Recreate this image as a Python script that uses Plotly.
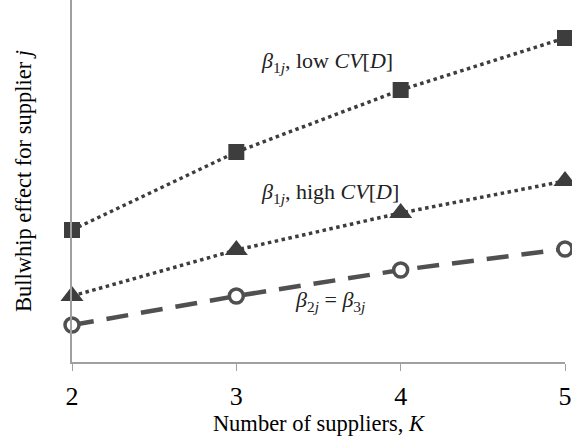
import plotly.graph_objects as go

K = [2, 3, 4, 5]
beta1_low = [132, 210, 272, 324]
beta1_high = [66, 112, 149, 181]
beta23 = [37, 66, 92, 113]

dark = "#3d3d3d"
serif = "Liberation Serif"

fig = go.Figure()
fig.add_trace(go.Scatter(x=K, y=beta1_low, mode="lines+markers",
                         line=dict(color=dark, width=3.5, dash="dot"),
                         marker=dict(symbol="square", size=16, color=dark),
                         cliponaxis=False, showlegend=False))
fig.add_trace(go.Scatter(x=K, y=beta1_high, mode="lines+markers",
                         line=dict(color=dark, width=3.5, dash="dot"),
                         marker=dict(symbol="triangle-up", size=20, color=dark),
                         cliponaxis=False, showlegend=False))
fig.add_trace(go.Scatter(x=K, y=beta23, mode="lines+markers",
                         line=dict(color="#505050", width=4.5, dash="22px,13px"),
                         marker=dict(symbol="circle", size=14, color="white",
                                     line=dict(color="#505050", width=3.5)),
                         cliponaxis=False, showlegend=False))

ann_font = dict(family=serif, size=22, color="#222")
fig.add_annotation(x=3.55, y=300, text="<i>β</i><sub>1<i>j</i></sub>, low <i>CV</i>[<i>D</i>]",
                   showarrow=False, font=ann_font)
fig.add_annotation(x=3.57, y=169, text="<i>β</i><sub>1<i>j</i></sub>, high <i>CV</i>[<i>D</i>]",
                   showarrow=False, font=ann_font)
fig.add_annotation(x=3.57, y=61, text="<i>β</i><sub>2<i>j</i></sub> = <i>β</i><sub>3<i>j</i></sub>",
                   showarrow=False, font=ann_font)

fig.update_layout(
    width=572, height=440,
    margin=dict(l=72, r=7, t=0, b=78),
    plot_bgcolor="white", paper_bgcolor="white",
    font=dict(family=serif),
    xaxis=dict(range=[2, 5], tickvals=K, ticktext=[str(k) for k in K],
               showgrid=False, zeroline=False, showline=True, linecolor="#a0a0a0",
               linewidth=1.5, ticks="outside", ticklen=7, tickcolor="#a0a0a0",
               ticklabelstandoff=3,
               tickfont=dict(family=serif, size=26, color="black"),
               title=dict(text="Number of suppliers, <i>K</i>",
                          font=dict(family=serif, size=22.5, color="black"), standoff=0)),
    yaxis=dict(range=[0, 362], showticklabels=False, showgrid=False, zeroline=False,
               showline=True, linecolor="#a0a0a0", linewidth=1.5, ticks="",
               title=dict(text="Bullwhip effect for supplier <i>j</i>",
                          font=dict(family=serif, size=22.5, color="black"), standoff=32)),
)

fig.write_html("out.html")
